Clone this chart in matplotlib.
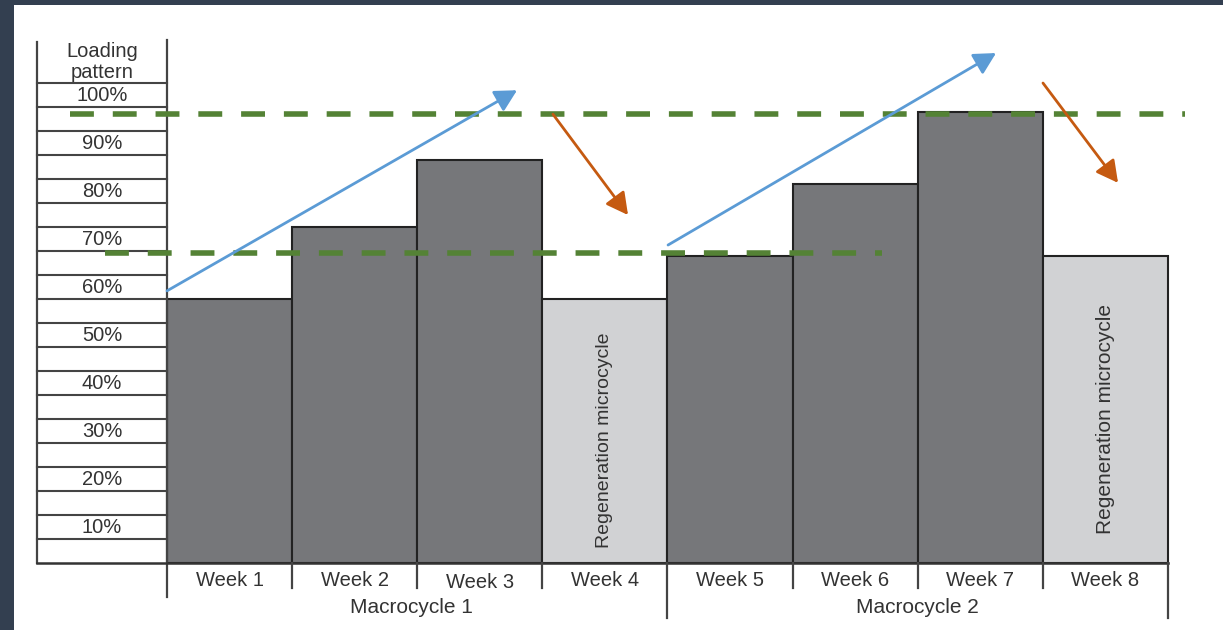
import matplotlib
matplotlib.use('Agg')
import matplotlib.pyplot as plt
from matplotlib.patches import Rectangle

plt.rcParams['font.family'] = ['Liberation Sans', 'DejaVu Sans']

# ─── Data ─────────────────────────────────────────────────────────────────────
weeks = ['Week 1', 'Week 2', 'Week 3', 'Week 4', 'Week 5', 'Week 6', 'Week 7', 'Week 8']
loading = [55, 70, 84, 55, 64, 79, 94, 64]
regeneration = [False, False, False, True, False, False, False, True]
macrocycles = ['Macrocycle 1', 'Macrocycle 2']
pct_labels = [10, 20, 30, 40, 50, 60, 70, 80, 90, 100]
upper_level = 93.5
lower_level = 64.5

DARK = '#76777a'
LIGHT = '#d1d2d4'
EDGE = '#222222'
TXT = '#333333'
GREEN = '#548235'
BLUE = '#5b9bd5'
ORANGE = '#c55a11'

fig = plt.figure(figsize=(12.23, 6.30), dpi=100)
fig.patch.set_facecolor('#333f50')

ax = fig.add_axes([0, 0, 1, 1])
ax.set_facecolor('none')
ax.set_xlim(-1.335, 8.441)
ax.set_ylim(-13.96, 117.3)
ax.axis('off')
ax.add_patch(Rectangle((14/1223, 0), 1, 1 - 5/630, transform=fig.transFigure,
                       facecolor='white', edgecolor='none', zorder=-10))

# ─── Bars ─────────────────────────────────────────────────────────────────────
n = len(weeks)
colors = [LIGHT if r else DARK for r in regeneration]
ax.bar(range(n), loading, width=1, align='edge', color=colors,
       edgecolor=EDGE, lw=1.5, zorder=2)

for i, (v, r) in enumerate(zip(loading, regeneration)):
    if r:
        fs = 14 if i < 4 else 15
        ax.text(i + 0.5, v / 2 - 2, 'Regeneration microcycle',
                rotation=90, ha='center', va='center', fontsize=fs, color=TXT, zorder=3)

# ─── Ladder (loading pattern scale) ──────────────────────────────────────────
lx = -1.039
ax.plot([lx, lx], [0, 108.5], color='#444444', lw=1.6, zorder=3)
ax.plot([0, 0], [-7.1, 109], color='#444444', lw=1.6, zorder=3)
for p in range(5, 101, 5):
    ax.plot([lx, 0], [p, p], color='#444444', lw=1.5, zorder=3)
for p in pct_labels:
    ax.text(lx / 2, p - 2.6, f'{p}%', ha='center', va='center',
            fontsize=14.5, color=TXT, zorder=4)
ax.text(lx / 2, 106.6, 'Loading', ha='center', va='center',
        fontsize=14.5, color=TXT, zorder=4)
ax.text(lx / 2, 102.2, 'pattern', ha='center', va='center',
        fontsize=14.5, color=TXT, zorder=4)

# baseline and week separators
ax.plot([lx, n], [0, 0], color='#333333', lw=1.8, zorder=3)
for i in range(1, n + 1):
    bottom = -11.5 if i % 4 == 0 else -5.2
    ax.plot([i, i], [0, bottom], color='#444444', lw=1.6, zorder=3)

for i, w in enumerate(weeks):
    ax.text(i + 0.5, -3.6 if i != 2 else -4.1, w, ha='center', va='center',
            fontsize=14.5, color=TXT)
for j, m in enumerate(macrocycles):
    ax.text(j * 4 + 1.95 + j * 0.05, -9.3, m, ha='center', va='center',
            fontsize=15, color=TXT)

# ─── Reference levels ────────────────────────────────────────────────────────
ax.plot([-0.775, 8.137], [upper_level, upper_level], color=GREEN, lw=4,
        ls=(0, (4.3, 3.4)), zorder=5)
ax.plot([-0.496, 5.716], [lower_level, lower_level], color=GREEN, lw=4,
        ls=(0, (4.3, 3.4)), zorder=5)

# ─── Trend arrows ────────────────────────────────────────────────────────────
ups = [((0.0, 56.7), (2.798, 98.5)), ((4.005, 66.25), (6.627, 106.25))]
downs = [((3.085, 93.5), (3.685, 72.5)), ((7.002, 100.0), (7.602, 79.2))]
head = '-|>,head_length=0.6,head_width=0.32'
for (x0, y0), (x1, y1) in ups:
    ax.annotate('', xy=(x1, y1), xytext=(x0, y0),
                arrowprops=dict(arrowstyle=head, color=BLUE, lw=2,
                                mutation_scale=22, shrinkA=0, shrinkB=0), zorder=6)
for (x0, y0), (x1, y1) in downs:
    ax.annotate('', xy=(x1, y1), xytext=(x0, y0),
                arrowprops=dict(arrowstyle=head, color=ORANGE, lw=2,
                                mutation_scale=22, shrinkA=0, shrinkB=0), zorder=6)

fig.savefig('out.png', dpi=100, facecolor=fig.get_facecolor())
